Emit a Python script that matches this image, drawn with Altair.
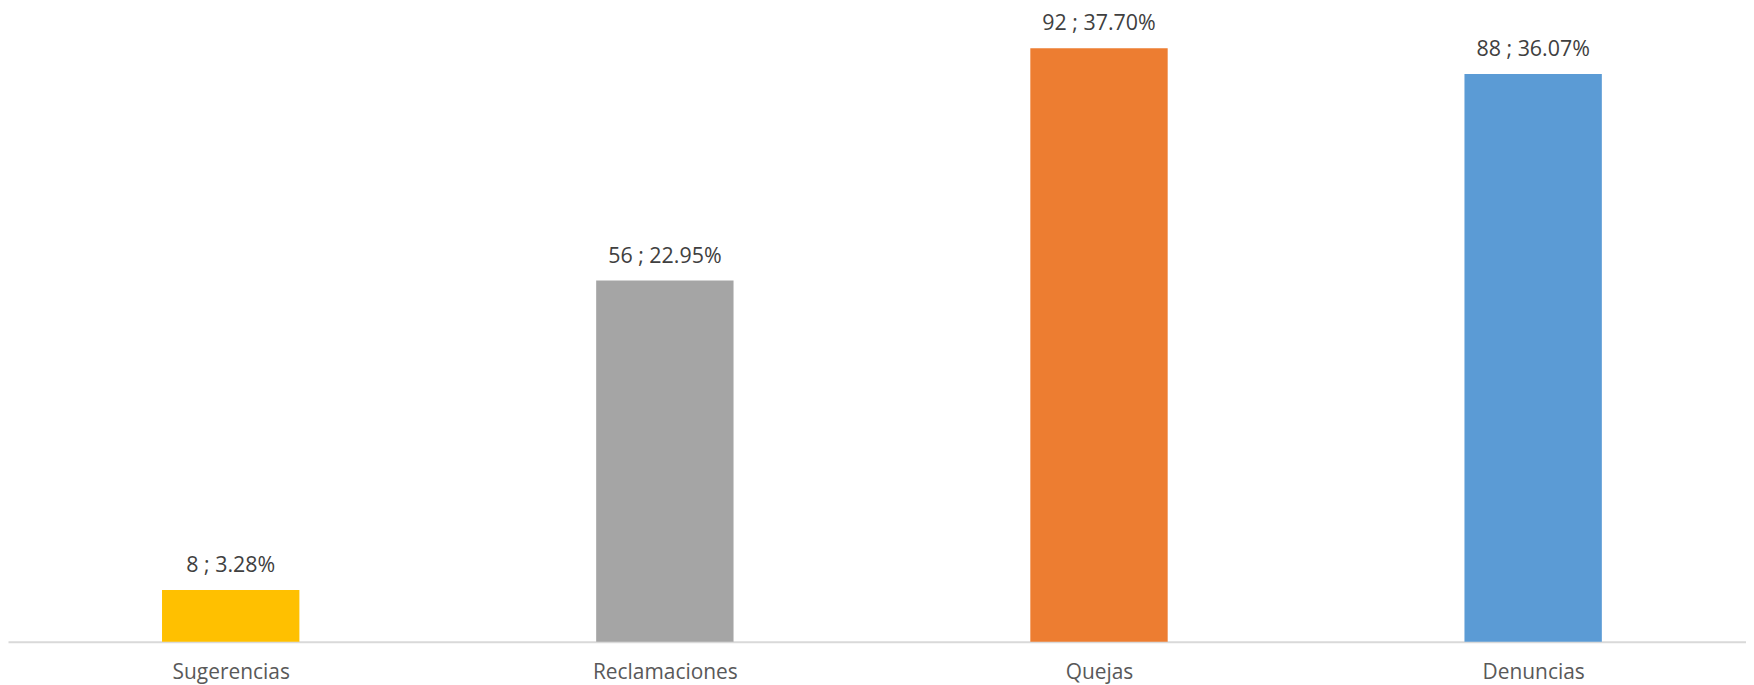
import altair as alt
import pandas as pd

categories = ["Sugerencias", "Reclamaciones", "Quejas", "Denuncias"]
counts = [8, 56, 92, 88]
percents = ["3.28%", "22.95%", "37.70%", "36.07%"]
colors = ["#FFC000", "#A5A5A5", "#ED7D31", "#5B9BD5"]

df = pd.DataFrame({
    "idx": list(range(len(categories))),
    "cat": categories,
    "n": counts,
    "label": [f"{c} ; {p}" for c, p in zip(counts, percents)],
    "color": colors,
})

FONT = "Open Sans"
label_expr = "[" + ",".join(f"'{c}'" for c in categories) + "][datum.value]"

x = alt.X("idx:Q",
          scale=alt.Scale(domain=[-0.5015, 3.4788], nice=False, zero=False),
          axis=alt.Axis(title=None, values=list(range(len(categories))), labelExpr=label_expr,
                        domainColor="#D9D9D9", domainWidth=2, ticks=False, tickSize=0,
                        labelPadding=37, labelBaseline="alphabetic", labelAngle=0,
                        labelFlush=False, labelOverlap=False,
                        labelFont=FONT, labelFontSize=21, labelColor="#595959", grid=False))
y = alt.Y("n:Q", scale=alt.Scale(domain=[0, 98], nice=False), axis=None)

bars = alt.Chart(df).mark_bar(size=138).encode(
    x=x, y=y, color=alt.Color("color:N", scale=None)
)
text = alt.Chart(df).mark_text(baseline="alphabetic", dy=-18, font=FONT, fontSize=21.5,
                               color="#404040").encode(
    x=x, y=y, text="label:N"
)

chart = (bars + text).properties(
    width=1746, height=635,
    autosize=alt.AutoSizeParams(type="none"),
    padding={"left": 0, "top": 0, "right": 0, "bottom": 42},
).configure_view(stroke=None)

chart.save("out.html", embed_options={"renderer": "svg", "actions": False})
